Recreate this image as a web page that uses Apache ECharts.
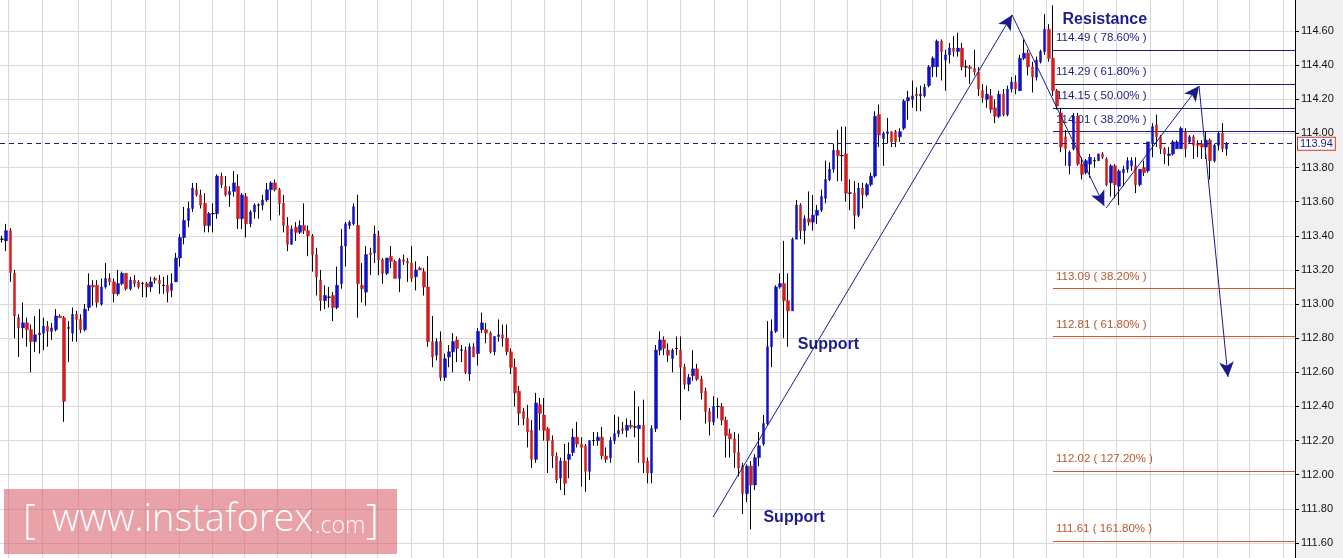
<!DOCTYPE html>
<html><head><meta charset="utf-8">
<script src="https://cdn.jsdelivr.net/npm/echarts@6/dist/echarts.min.js"></script>
<style>html,body{margin:0;padding:0;background:#f0f0f0}#c{width:1343px;height:558px}</style>
</head><body><div id="c"></div>
<script>
// ---- candle data (297 candles) ----
const opens = [
113.38,113.37,113.43,113.18,112.92,112.86,112.89,112.85,112.78,112.82,
112.83,112.87,112.84,112.85,112.93,112.92,112.86,112.83,112.94,112.91,
112.85,112.98,113.11,113.11,113.00,113.10,113.15,113.13,113.06,113.12,
113.18,113.09,113.14,113.13,113.12,113.12,113.10,113.15,113.14,113.11,
113.11,113.08,113.13,113.27,113.39,113.49,113.56,113.67,113.64,113.59,
113.46,113.53,113.53,113.75,113.69,113.64,113.66,113.69,113.50,113.63,
113.47,113.54,113.58,113.58,113.61,113.67,113.71,113.67,113.59,113.46,
113.35,113.45,113.42,113.46,113.43,113.40,113.29,113.14,113.02,113.04,
113.05,112.98,113.12,113.34,113.46,113.47,113.46,113.11,113.07,113.30,
113.30,113.40,113.26,113.18,113.28,113.25,113.15,113.26,113.25,113.24,
113.16,113.21,113.19,113.10,112.78,112.70,112.78,112.57,112.69,112.72,
112.79,112.73,112.73,112.59,112.75,112.71,112.85,112.85,112.83,112.72,
112.81,112.82,112.80,112.72,112.63,112.49,112.37,112.33,112.26,112.09,
112.41,112.35,112.27,112.20,112.11,111.98,112.08,112.09,112.13,112.22,
112.18,112.17,112.02,112.20,112.20,112.22,112.11,112.10,112.20,112.24,
112.27,112.26,112.29,112.28,112.27,112.29,112.08,112.01,112.27,112.73,
112.79,112.73,112.68,112.74,112.73,112.63,112.53,112.58,112.62,112.56,
112.49,112.37,112.31,112.40,112.40,112.32,112.24,112.21,112.13,112.05,
111.89,112.05,111.94,112.10,112.18,112.30,112.75,112.84,113.10,113.12,
113.02,112.96,113.38,113.58,113.43,113.50,113.48,113.52,113.55,113.62,
113.73,113.79,113.90,113.87,113.88,113.65,113.65,113.52,113.68,113.64,
113.70,113.75,114.11,113.97,114.00,114.01,114.01,113.98,114.03,114.19,
114.20,114.23,114.22,114.22,114.28,114.39,114.39,114.54,114.43,114.46,
114.50,114.48,114.50,114.39,114.39,114.38,114.36,114.25,114.20,114.22,
114.15,114.10,114.23,114.11,114.26,114.30,114.25,114.44,114.47,114.39,
114.33,114.42,114.48,114.61,114.44,114.25,114.12,113.98,113.81,113.91,
114.10,113.82,113.77,113.82,113.84,113.84,113.88,113.85,113.71,113.81,
113.69,113.77,113.79,113.81,113.81,113.70,113.80,113.78,113.94,114.05,
113.98,113.91,113.87,113.88,113.91,113.91,114.01,113.95,113.98,113.94,
113.94,113.92,113.96,113.84,113.93,114.00,113.91];
const closes = [
113.38,113.43,113.185,112.93,112.86,112.89,112.85,112.78,112.82,112.83,
112.87,112.84,112.86,112.93,112.92,112.43,112.86,112.94,112.91,112.85,
112.97,113.11,113.10,113.01,113.10,113.15,113.13,113.06,113.12,113.18,
113.09,113.14,113.12,113.10,113.12,113.10,113.13,113.14,113.12,113.11,
113.07,113.12,113.27,113.39,113.49,113.56,113.68,113.64,113.58,113.46,
113.53,113.53,113.75,113.70,113.64,113.66,113.71,113.50,113.64,113.47,
113.54,113.58,113.58,113.61,113.67,113.71,113.67,113.59,113.46,113.35,
113.44,113.42,113.46,113.43,113.40,113.29,113.16,113.02,113.05,113.04,
112.98,113.11,113.34,113.47,113.48,113.57,113.12,113.09,113.29,113.29,
113.41,113.26,113.18,113.27,113.25,113.15,113.26,113.25,113.24,113.15,
113.20,113.20,113.10,112.78,112.69,112.78,112.57,112.68,112.72,112.78,
112.74,112.73,112.60,112.75,112.69,112.84,112.89,112.83,112.72,112.81,
112.82,112.80,112.72,112.63,112.48,112.36,112.33,112.25,112.09,112.42,
112.36,112.26,112.20,112.11,111.97,112.08,111.95,112.12,112.22,112.18,
112.16,112.02,112.20,112.20,112.22,112.11,112.09,112.20,112.24,112.26,
112.26,112.29,112.28,112.28,112.29,112.07,112.01,112.27,112.73,112.79,
112.74,112.70,112.73,112.74,112.63,112.53,112.57,112.62,112.56,112.48,
112.37,112.31,112.40,112.40,112.32,112.23,112.21,112.13,112.04,111.89,
112.05,111.94,112.10,112.17,112.30,112.75,112.84,113.10,113.12,113.02,
112.96,113.38,113.58,113.43,113.50,113.48,113.52,113.55,113.63,113.73,
113.79,113.90,113.87,113.87,113.65,113.65,113.52,113.68,113.64,113.70,
113.75,114.10,113.99,114.00,114.01,113.95,113.95,114.01,114.19,114.21,
114.22,114.22,114.23,114.27,114.39,114.44,114.54,114.48,114.46,114.50,
114.48,114.50,114.39,114.39,114.38,114.36,114.26,114.21,114.23,114.14,
114.10,114.23,114.11,114.26,114.30,114.26,114.44,114.47,114.39,114.33,
114.43,114.48,114.61,114.44,114.25,114.16,113.92,113.91,113.89,114.10,
113.82,113.76,113.84,113.86,113.84,113.88,113.86,113.70,113.81,113.70,
113.78,113.79,113.84,113.84,113.70,113.79,113.77,113.95,114.04,113.98,
113.91,113.88,113.88,113.95,113.95,114.03,113.91,113.98,113.93,113.93,
113.92,113.96,113.84,113.93,114.00,113.91,113.94];
const lows = [
113.36,113.31,113.13,112.80,112.69,112.80,112.75,112.60,112.72,112.71,
112.73,112.75,112.79,112.84,112.92,112.31,112.66,112.78,112.78,112.83,
112.84,112.96,112.99,112.98,112.99,113.09,113.11,113.01,113.05,113.11,
113.08,113.08,113.10,113.09,113.04,113.04,113.07,113.12,113.06,113.06,
113.01,113.04,113.13,113.22,113.35,113.45,113.54,113.63,113.56,113.42,
113.42,113.42,113.50,113.68,113.63,113.57,113.63,113.44,113.44,113.39,
113.45,113.50,113.50,113.55,113.60,113.49,113.66,113.52,113.42,113.31,
113.35,113.37,113.41,113.41,113.28,113.19,113.05,112.96,112.97,112.98,
112.90,112.97,113.09,113.22,113.44,113.46,112.92,113.01,112.99,113.17,
113.24,113.17,113.12,113.17,113.21,113.15,113.07,113.23,113.13,113.13,
113.08,113.20,113.05,112.75,112.63,112.67,112.55,112.55,112.63,112.60,
112.66,112.66,112.59,112.55,112.69,112.64,112.83,112.77,112.71,112.70,
112.78,112.75,112.70,112.59,112.40,112.29,112.29,112.16,112.04,112.07,
112.26,112.20,112.01,112.04,111.95,111.91,111.88,111.98,112.11,112.16,
111.93,111.90,111.97,112.17,112.17,112.09,112.07,112.07,112.18,112.22,
112.24,112.22,112.27,112.22,112.07,112.01,111.95,111.95,112.25,112.70,
112.70,112.66,112.60,112.70,112.32,112.50,112.49,112.55,112.55,112.44,
112.30,112.23,112.29,112.33,112.29,112.10,112.10,112.04,111.99,111.77,
111.84,111.68,111.91,112.05,112.17,112.29,112.63,112.83,113.09,112.80,
112.75,112.96,113.38,113.38,113.35,113.46,113.43,113.47,113.54,113.59,
113.72,113.77,113.72,113.72,113.60,113.55,113.44,113.51,113.56,113.63,
113.69,113.74,113.92,113.81,113.94,113.92,113.92,113.95,114.02,114.08,
114.15,114.13,114.13,114.21,114.27,114.33,114.33,114.31,114.25,114.41,
114.45,114.45,114.37,114.33,114.29,114.34,114.22,114.18,114.15,114.12,
114.06,114.09,114.10,114.10,114.24,114.23,114.25,114.43,114.34,114.24,
114.31,114.41,114.46,114.42,114.22,114.14,113.89,113.81,113.76,113.90,
113.81,113.73,113.76,113.74,113.80,113.84,113.85,113.69,113.63,113.62,
113.58,113.69,113.77,113.78,113.65,113.69,113.75,113.77,113.86,113.92,
113.88,113.82,113.81,113.87,113.91,113.91,113.86,113.94,113.85,113.86,
113.85,113.85,113.73,113.83,113.90,113.89,113.87];
const highs = [
113.40,113.47,113.445,113.20,112.94,113.01,112.92,112.88,112.93,112.97,
112.92,112.90,112.89,112.97,112.94,112.93,112.90,112.98,112.96,112.94,
113.00,113.18,113.14,113.14,113.15,113.24,113.18,113.15,113.20,113.19,
113.18,113.16,113.17,113.14,113.13,113.13,113.16,113.16,113.17,113.16,
113.17,113.18,113.30,113.41,113.57,113.60,113.71,113.71,113.67,113.65,
113.54,113.59,113.76,113.77,113.75,113.69,113.78,113.76,113.65,113.65,
113.55,113.59,113.59,113.64,113.71,113.72,113.73,113.68,113.64,113.51,
113.46,113.48,113.49,113.59,113.46,113.41,113.33,113.20,113.11,113.10,
113.07,113.22,113.44,113.48,113.49,113.59,113.64,113.24,113.34,113.33,
113.46,113.43,113.27,113.27,113.34,113.26,113.27,113.29,113.27,113.34,
113.25,113.22,113.21,113.28,112.93,112.80,112.84,112.71,112.76,112.83,
112.81,112.76,112.75,112.77,112.77,112.86,112.95,112.89,112.84,112.81,
112.91,112.88,112.88,112.74,112.68,112.52,112.39,112.41,112.32,112.48,
112.45,112.45,112.28,112.23,112.13,112.10,112.18,112.19,112.27,112.31,
112.22,112.18,112.20,112.25,112.25,112.28,112.16,112.22,112.35,112.34,
112.31,112.33,112.32,112.49,112.40,112.44,112.10,112.29,112.76,112.84,
112.81,112.77,112.74,112.81,112.81,112.65,112.59,112.73,112.65,112.58,
112.51,112.39,112.46,112.45,112.42,112.34,112.27,112.25,112.24,112.07,
112.06,112.08,112.12,112.25,112.35,112.90,112.91,113.11,113.18,113.37,
113.18,113.39,113.61,113.59,113.52,113.66,113.64,113.58,113.67,113.84,
113.83,113.94,114.02,114.04,114.04,113.73,113.72,113.71,113.71,113.71,
113.77,114.13,114.17,114.01,114.09,114.01,114.02,114.03,114.20,114.25,
114.31,114.27,114.28,114.29,114.40,114.45,114.55,114.55,114.49,114.53,
114.57,114.59,114.53,114.43,114.40,114.49,114.39,114.29,114.28,114.26,
114.20,114.25,114.26,114.28,114.33,114.34,114.46,114.55,114.49,114.42,
114.45,114.49,114.70,114.64,114.75,114.26,114.15,114.02,113.90,114.12,
114.12,113.86,113.85,113.88,113.86,113.88,113.89,113.86,113.82,113.82,
113.79,113.81,113.86,113.86,113.86,113.79,113.84,113.95,114.06,114.11,
113.99,113.92,113.92,113.96,113.96,114.04,114.03,113.99,113.99,113.96,
113.96,114.01,113.97,113.94,114.01,114.06,113.95];

// time axis: candle slots (last slots empty, right margin of the chart)
const N_CAT = 313;
const categories = Array.from({length: N_CAT}, (_, i) => String(i));
// vertical time grid lines, in candle-index units
const timeGrid = [1.5,9.6,18.4,26.5,34.7,42.8,50.8,58.6,66.6,74.8,82.9,90.8,98.9,106.7,114.9,123.0,131.0,139.9,148.0,156.0,164.0,172.1,180.1,188.2,196.3,204.2,212.2,220.1,228.3,236.4,244.3,252.3,261.4,269.4,277.5,285.5,293.6,301.5,309.6];
// price axis ticks
const yMin = 111.60, yMax = 114.60, yStep = 0.20;
// Fibonacci levels
const fibStart = 254;
const fibUpper = [114.49, 114.29, 114.15, 114.01];
const fibUpperPct = ['78.60%', '61.80%', '50.00%', '38.20%'];
const fibLower = [113.09, 112.81, 112.02, 111.61];
const fibLowerPct = ['38.20%', '61.80%', '127.20%', '161.80%'];
// trend arrows [x0, y0, x1(tip), y1(tip)] in (candle index, price)
const arrows = [
  [171.85, 111.752, 244.12, 114.694],
  [244.12, 114.694, 266.4, 113.575],
  [266.85, 113.563, 289.3, 114.278],
  [289.3, 114.278, 296.3, 112.573]
];
const notes = [
  {text: 'Resistance', x: 256.2, y: 114.664},
  {text: 'Support', x: 192.2, y: 112.76},
  {text: 'Support', x: 183.9, y: 111.747}
];
const lastPrice = closes[closes.length - 1];

// ---- layout ----
const H = 558, PLOT_TOP = 31, PLOT_BOTTOM = 15, AXIS_W = 48;
const perPx = (yMax - yMin) / (H - PLOT_TOP - PLOT_BOTTOM);
const fullMin = yMin - PLOT_BOTTOM * perPx;
const fullMax = yMax + PLOT_TOP * perPx;

const UP = '#1212c4', DOWN = '#d01e1e', NAVY = '#1c1c80', ORANGE = '#d35a2c';
const FONT = '"Liberation Sans", Arial, sans-serif';

const wickData = opens.map((o, i) => [o, closes[i], lows[i], highs[i]]);
const bodyData = opens.map((o, i) => {
  const c = closes[i];
  const v = [o, c, Math.min(o, c), Math.max(o, c)];
  return o === c ? {value: v, itemStyle: {color: '#000', color0: '#000', borderColor: '#000', borderColor0: '#000', borderWidth: 1}} : v;
});

const fibData = [];
fibUpper.forEach((v, i) => fibData.push([
  {coord: [fibStart, v], name: v.toFixed(2) + ' ( ' + fibUpperPct[i] + ' )', lineStyle: {color: NAVY}, label: {color: NAVY}},
  {coord: [N_CAT - 0.5, v]}
]));
fibLower.forEach((v, i) => fibData.push([
  {coord: [fibStart, v], name: v.toFixed(2) + ' ( ' + fibLowerPct[i] + ' )', lineStyle: {color: ORANGE}, label: {color: '#b9552a'}},
  {coord: [N_CAT - 0.5, v]}
]));

const chart = echarts.init(document.getElementById('c'), null, {renderer: 'canvas'});
chart.setOption({
  animation: false,
  backgroundColor: '#f0f0f0',
  grid: [
    {left: 0, right: AXIS_W, top: 0, bottom: 0, show: true, backgroundColor: '#ffffff', borderWidth: 0},
    {left: 0, right: AXIS_W, top: PLOT_TOP, bottom: PLOT_BOTTOM}
  ],
  xAxis: [
    {type: 'category', gridIndex: 0, data: categories, show: false, boundaryGap: true, axisLine: {onZero: false}},
    {type: 'value', gridIndex: 0, min: -0.5, max: N_CAT - 0.5, show: false, axisLine: {onZero: false}},
    {type: 'value', gridIndex: 1, min: 1, max: 2, show: false, axisLine: {onZero: false}}
  ],
  yAxis: [
    {type: 'value', gridIndex: 0, min: fullMin, max: fullMax, position: 'right',
     axisLine: {show: true, onZero: false, lineStyle: {color: '#000', width: 1}},
     axisTick: {show: false}, axisLabel: {show: false}, splitLine: {show: false}},
    {type: 'value', gridIndex: 1, min: yMin, max: yMax, interval: yStep, position: 'right',
     axisLine: {show: false, onZero: false},
     axisTick: {show: true, inside: false, length: 4, lineStyle: {color: '#000'}},
     axisLabel: {margin: 6, fontSize: 11, color: '#111', fontFamily: FONT, formatter: v => v.toFixed(2)},
     splitLine: {show: true, lineStyle: {color: '#d9d9d9', width: 1}}}
  ],
  series: [
    {
      name: 'timegrid', type: 'line', xAxisIndex: 1, yAxisIndex: 0, data: [[0, lastPrice]],
      showSymbol: false, lineStyle: {opacity: 0}, silent: true, z: 0,
      markLine: {silent: true, z: 0, symbol: ['none', 'none'], animation: false,
        lineStyle: {color: '#d9d9d9', width: 1, type: 'solid'}, label: {show: false},
        data: timeGrid.map(v => ({xAxis: v}))}
    },
    {
      name: 'fib', type: 'line', xAxisIndex: 1, yAxisIndex: 0, data: [[0, lastPrice]],
      showSymbol: false, lineStyle: {opacity: 0}, silent: true, z: 1,
      markLine: {silent: true, z: 1, symbol: ['none', 'none'], animation: false,
        lineStyle: {width: 1, type: 'solid'},
        label: {show: true, position: 'insideStartTop', formatter: '{b}', fontSize: 11.5, fontFamily: FONT, distance: [3, 6]},
        data: fibData}
    },
    {
      name: 'wick', type: 'candlestick', xAxisIndex: 0, yAxisIndex: 0, data: wickData, barWidth: 1, z: 2,
      silent: true,
      itemStyle: {color: '#000', color0: '#000', borderColor: '#000', borderColor0: '#000', borderWidth: 1}
    },
    {
      name: 'body', type: 'candlestick', xAxisIndex: 0, yAxisIndex: 0, data: bodyData, barWidth: 3, z: 3,
      silent: true,
      itemStyle: {color: UP, color0: DOWN, borderColor: UP, borderColor0: DOWN, borderWidth: 0.5},
      markLine: {silent: true, z: 4, symbol: ['none', 'none'], animation: false,
        lineStyle: {color: NAVY, width: 1, type: [5, 4]},
        label: {show: true, position: 'end', formatter: lastPrice.toFixed(2), color: NAVY, fontSize: 11, fontFamily: FONT,
          backgroundColor: '#fff', borderColor: '#c83a3a', borderWidth: 1, padding: [1, 2, 0, 2], distance: 3},
        data: [{yAxis: lastPrice}]}
    },
    {
      name: 'annotations', type: 'line', xAxisIndex: 1, yAxisIndex: 0, data: [[0, lastPrice]],
      showSymbol: false, lineStyle: {opacity: 0}, silent: true, z: 10,
      markLine: {silent: true, z: 10, symbol: ['none', 'arrow'], symbolSize: [11, 15], animation: false,
        lineStyle: {color: '#1a1a8c', width: 1, type: 'solid'}, label: {show: false},
        data: arrows.map(a => [{coord: [a[0], a[1]]}, {coord: [a[2], a[3]]}])},
      markPoint: {silent: true, z: 10, symbol: 'circle', symbolSize: 1, itemStyle: {color: 'rgba(0,0,0,0)'}, animation: false,
        label: {show: true, position: 'right', distance: 0, formatter: '{b}', color: '#1c1c8c', fontSize: 16, fontWeight: 'bold', fontFamily: FONT},
        data: notes.map(n => ({coord: [n.x, n.y], name: n.text}))}
    }
  ],
  graphic: [
    {type: 'rect', z: 100, silent: true, shape: {x: 4, y: 489, width: 393, height: 65}, style: {fill: 'rgba(215,88,97,0.55)'}},
    {type: 'text', z: 101, silent: true, x: 23, y: 522, style: {text: '[', fill: '#fff', font: '300 40px "Open Sans"', verticalAlign: 'middle'}},
    {type: 'text', z: 101, silent: true, x: 52, y: 520, style: {text: 'www.instaforex', fill: '#fff', font: '300 38px "Open Sans"', verticalAlign: 'middle'}},
    {type: 'text', z: 101, silent: true, x: 315, y: 526, style: {text: '.com', fill: '#fff', font: '300 23px "Open Sans"', verticalAlign: 'middle'}},
    {type: 'text', z: 101, silent: true, x: 366, y: 522, style: {text: ']', fill: '#fff', font: '300 40px "Open Sans"', verticalAlign: 'middle'}}
  ]
});
</script>
</body></html>
